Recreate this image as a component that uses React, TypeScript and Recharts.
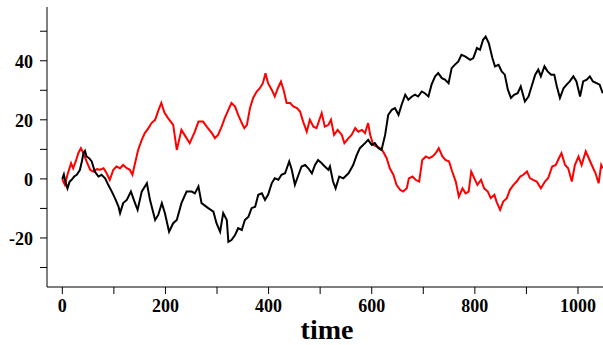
import { LineChart, Line, XAxis, YAxis, Label } from 'recharts'

// black walk
const blackT = [
  0, 3, 6, 10, 14, 18, 23, 28, 34, 38, 41, 44, 47, 52, 57, 63, 70, 76, 83, 89,
  96, 102, 109, 112, 118, 125, 133, 141, 146, 154, 164, 170, 180, 186, 193, 199, 207, 215, 222, 231,
  241, 251, 257, 264, 270, 283, 293, 299, 306, 312, 319, 322, 328, 335, 341, 348, 354, 361, 367, 374,
  380, 387, 393, 399, 406, 412, 419, 425, 432, 440, 445, 451, 458, 464, 471, 477, 484, 490, 496, 503,
  509, 516, 519, 525, 530, 537, 545, 555, 564, 571, 577, 587, 593, 600, 606, 613, 619, 626, 632, 639,
  645, 652, 658, 665, 671, 678, 684, 690, 697, 703, 710, 716, 723, 729, 736, 742, 749, 755, 761, 768,
  774, 781, 791, 797, 804, 810, 816, 821, 827, 834, 839, 846, 852, 858, 864, 870, 876, 883, 889, 897,
  904, 910, 917, 923, 928, 935, 941, 948, 954, 959, 965, 972, 978, 984, 991, 997, 1004, 1010, 1017, 1023,
  1029, 1036, 1042, 1048,
]
const blackV = [
  0, 1.5, -1, -3.2, -1, -0.3, 0.8, 1.4, 3, 6, 8.7, 9.5, 7.6, 7, 5.9, 2.5, 0.8, 1.4, 0.2, -2,
  -4.3, -6.5, -9.4, -11.6, -8.2, -7.1, -4.3, -8.2, -10.5, -4.3, -1.5, -7.1, -13.9, -12.2, -8.2, -11.6, -17.9, -15, -13.9, -8.2,
  -4.3, -4.3, -4.9, -2.6, -8.2, -9.9, -11.1, -15, -17.9, -11.6, -13.9, -21.3, -20.7, -19, -16.7, -17.3, -13.9, -12.8, -9.9, -9.4,
  -5.4, -4.9, -7.1, -5.4, -1.5, 0.2, -0.3, 1.4, 1.9, 5.9, 3.1, -2, 1.4, 4.2, 4.7, 3.6, 1.9, 4.7, 6.4, 5.3,
  4.2, 3.1, 4.2, -0.9, -3.2, 0.8, 0.2, 1.9, 4.7, 8.1, 10.4, 12.1, 13.2, 11.5, 12.1, 10.4, 9.8, 14.9, 21.7, 23.4,
  24, 21.7, 25.1, 28.5, 26.8, 27.9, 28.5, 27.9, 29.6, 29, 27.9, 31.9, 34.7, 35.8, 34.1, 33.6, 32.4, 37.5, 38.6, 39.8,
  42, 41.5, 40.3, 40.9, 44.3, 43.7, 47.1, 48.2, 46, 40.9, 38.1, 38.6, 36.4, 35.3, 30.2, 27.4, 28.5, 29, 31.3, 26.2,
  27.9, 31.3, 35.3, 37, 34.7, 38.1, 36.4, 35.3, 35.3, 31.3, 27.4, 30.7, 31.9, 33, 34.7, 33, 27.9, 33, 33.6, 34.7,
  33, 32.4, 31.9, 29,
]

// red walk
const redT = [
  0, 2, 5, 10, 17, 21, 26, 31, 36, 41, 47, 54, 60, 67, 73, 80, 86, 92, 99, 105,
  112, 118, 125, 131, 136, 141, 147, 154, 160, 167, 173, 180, 186, 192, 198, 205, 215, 222, 231, 237,
  247, 257, 264, 273, 280, 290, 296, 302, 309, 315, 322, 328, 335, 341, 348, 353, 358, 364, 370, 377,
  383, 389, 394, 399, 406, 412, 418, 424, 429, 435, 442, 448, 455, 461, 467, 474, 480, 487, 493, 503,
  509, 516, 521, 527, 534, 542, 547, 555, 561, 568, 574, 581, 587, 593, 597, 603, 610, 616, 622, 629,
  635, 642, 648, 655, 661, 668, 672, 679, 685, 692, 698, 705, 711, 718, 724, 730, 737, 743, 750, 756,
  763, 769, 776, 782, 788, 793, 799, 805, 812, 818, 825, 831, 838, 842, 849, 855, 862, 868, 875, 881,
  888, 894, 901, 907, 913, 920, 928, 936, 942, 950, 957, 963, 968, 975, 981, 988, 994, 1001, 1007, 1015,
  1021, 1028, 1034, 1040, 1045, 1048,
]
const redV = [
  0, -0.9, -2, 1.4, 5.3, 3.6, 5.9, 8.7, 10.4, 8.7, 5.9, 3.1, 2.5, 3.3, 3.1, 3.6, 1.9, -0.3, 3.1, 4.2,
  3.6, 4.7, 3.6, 3.1, 1.4, 5.3, 9.8, 13.2, 15.5, 17.2, 18.9, 20, 23, 25.7, 22.5, 20.6, 18.3, 9.8, 16.6, 14.9,
  12.1, 16, 19.4, 19.4, 17.7, 15.5, 13.8, 14.9, 17.7, 20.6, 23.4, 25.7, 24.5, 21.7, 18.9, 17.2, 18.3, 24, 27.4, 29.6,
  30.7, 32.4, 35.8, 32.4, 30.2, 27.9, 30.7, 33, 30.2, 25.7, 25.7, 24.5, 24, 22.8, 19.4, 16, 20, 17.7, 17.2, 22.3,
  17.7, 18.3, 20, 14.9, 16.6, 14.9, 12.1, 13.8, 14.9, 17.2, 16, 16.6, 15.5, 18.9, 14.9, 11.5, 10.9, 10.4, 9.3, 7,
  3.6, 1.4, -2, -3.7, -4.3, -3.2, 0.2, 0.8, -0.3, -0.9, 6.4, 7.6, 7, 7.6, 8.7, 10.4, 7.6, 6.4, 5.9, 2.5,
  -0.9, -6, -3.2, -4.9, -4.3, 2.5, 0.2, -2, -0.3, -3.2, -4.3, -6.5, -5.4, -7.7, -10.5, -7.7, -6.5, -3.7, -2, -0.9,
  0.8, 1.4, 2.5, 0.2, -0.3, -0.9, -3.2, -0.9, 0.2, 4.2, 4.7, 7, 8.7, 4.7, 3.6, -0.9, 4.7, 7.6, 4.7, 9.3,
  7, 4.2, 1.9, -1.5, 4.7, 3.6,
]

const xTicks = [0, 100, 200, 300, 400, 500, 600, 700, 800, 900, 1000]
const yTicks = [-30, -20, -10, 0, 10, 20, 30, 40, 50]

const blackData = blackT.map((t, i) => ({ t, v: blackV[i] }))
const redData = redT.map((t, i) => ({ t, v: redV[i] }))

const font = '"Liberation Serif", "Times New Roman", serif'

function XTick({ x, y, payload }: any) {
  if (payload.value % 200 !== 0) return <g />
  return (
    <text x={x} y={y} dy={16} textAnchor="middle" fontFamily={font} fontWeight="bold" fontSize={18} fill="#000">
      {payload.value}
    </text>
  )
}

function YTick({ x, y, payload }: any) {
  if (payload.value % 20 !== 0) return <g />
  return (
    <text x={x} y={y} dy={7} textAnchor="end" fontFamily={font} fontWeight="bold" fontSize={18} fill="#000">
      {payload.value}
    </text>
  )
}

export default function App() {
  return (
    <div style={{ position: 'absolute', left: 0, top: 0, width: 603, height: 345, background: '#fff' }}>
      <LineChart width={603} height={345} margin={{ top: 7, right: 0, bottom: 0, left: 0 }}>
        <XAxis
          xAxisId="top"
          orientation="top"
          type="number"
          domain={[-29.7, 1048.5]}
          height={0}
          tick={false}
          tickLine={false}
          axisLine={{ stroke: '#000' }}
        />
        <XAxis
          dataKey="t"
          type="number"
          domain={[-29.7, 1048.5]}
          allowDataOverflow
          ticks={xTicks}
          interval={0}
          tickSize={7}
          tick={<XTick />}
          tickLine={{ stroke: '#000' }}
          axisLine={{ stroke: '#000' }}
          height={58}
        >
          <Label
            content={({ viewBox }: any) => (
              <text
                x={viewBox.x + viewBox.width / 2 + 2}
                y={339}
                textAnchor="middle"
                fontFamily={font}
                fontWeight="bold"
                fontSize={28}
                fill="#000"
              >
                time
              </text>
            )}
          />
        </XAxis>
        <YAxis
          type="number"
          domain={[-36.6, 58.2]}
          allowDataOverflow
          ticks={yTicks}
          interval={0}
          tickSize={7}
          tickMargin={7}
          tick={<YTick />}
          tickLine={{ stroke: '#000' }}
          axisLine={{ stroke: '#000' }}
          width={47}
        />
        <Line
          data={redData}
          dataKey="v"
          type="linear"
          stroke="#ff0000"
          strokeWidth={2}
          dot={false}
          isAnimationActive={false}
        />
        <Line
          data={blackData}
          dataKey="v"
          type="linear"
          stroke="#000000"
          strokeWidth={2}
          dot={false}
          isAnimationActive={false}
        />
      </LineChart>
    </div>
  )
}
